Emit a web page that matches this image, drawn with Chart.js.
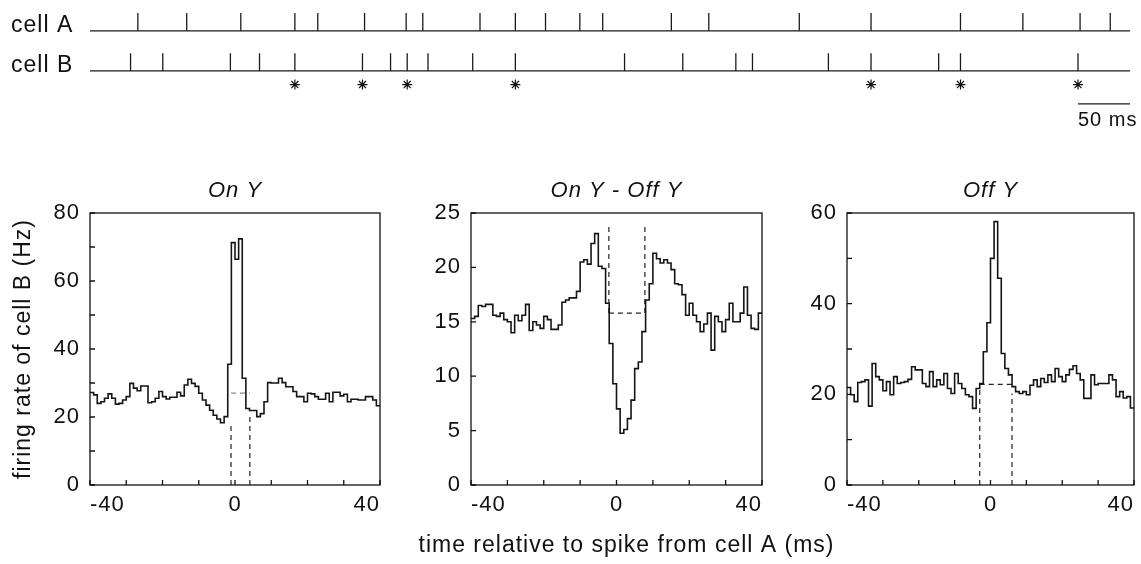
<!DOCTYPE html>
<html>
<head>
<meta charset="utf-8">
<script src="https://cdn.jsdelivr.net/npm/chart.js@4.4.1/dist/chart.umd.min.js"></script>
<style>
  body { margin: 0; background: #fff; width: 1141px; height: 564px; position: relative; overflow: hidden; }
  canvas { position: absolute; }
</style>
</head>
<body>
<canvas id="raster" width="1141" height="140" style="left:0px;top:0px"></canvas>
<canvas id="onY" width="400" height="394" style="left:0px;top:170px"></canvas>
<canvas id="onOffY" width="440" height="394" style="left:400px;top:170px"></canvas>
<canvas id="offY" width="341" height="394" style="left:800px;top:170px"></canvas>
<script>
// --- DATA ---
// spike times (ms) read off the two rasters
const rasterRows = ['cell A', 'cell B'];
const cellASpikes = [46, 93, 145, 197, 219, 264, 304, 320, 375, 409, 438, 471, 493, 559, 595, 682, 751, 837, 897, 952, 981];
const cellBSpikes = [39, 70, 135, 163, 197, 262, 289, 305, 325, 368, 409, 514, 570, 621, 637, 710, 751, 816, 837, 950];
const syncSpikes = [197, 262, 305, 409, 751, 837, 950];   // the asterisks
const scaleBarMs = 50;

// cross-correlograms, 1 ms bins from -40 to 40 ms (firing rate of cell B, Hz)
const onYRate = [
  27.2, 26.5, 24.0, 24.5, 25.5, 26.8, 25.5, 23.8, 24.0, 25.0,
  26.0, 29.9, 28.5, 27.7, 29.1, 29.1, 24.2, 24.5, 25.5, 27.5,
  26.0, 25.3, 25.8, 25.8, 27.3, 26.2, 29.4, 31.1, 29.9, 29.0,
  27.0, 25.0, 23.5, 22.0, 20.5, 19.4, 18.3, 20.1,
  35.5, 71.3, 66.4, 72.4, 31.4,
  22.5, 21.9, 21.9, 20.1, 21.0, 24.5, 30.1, 30.0, 30.0, 31.4,
  30.1, 28.9, 28.9, 27.5, 26.0, 26.0, 24.5, 27.0, 26.8, 26.0,
  25.2, 25.2, 27.0, 24.5, 27.3, 27.3, 26.2, 26.7, 24.5, 25.2,
  25.2, 25.0, 25.0, 26.0, 26.0, 25.0, 23.3
];
const onOffYRate = [
  15.3, 15.5, 16.5, 16.4, 16.6, 16.6, 15.6, 15.5, 15.8, 15.2,
  15.0, 14.0, 15.6, 15.1, 15.6, 16.6, 14.2, 15.0, 14.7, 14.4,
  15.5, 15.2, 14.3, 14.3, 14.7, 16.8, 17.0, 17.2, 17.2, 17.8,
  20.5, 20.7, 20.3, 22.2, 23.1, 20.1, 19.9, 16.7, 13.0, 9.3,
  7.0, 4.75, 5.1, 6.1, 7.8, 10.7, 11.3, 14.1, 17.0, 18.5,
  21.3, 20.8, 20.4, 20.7, 20.4, 19.8, 18.5, 18.4, 17.5, 15.6,
  16.7, 15.6, 15.0, 14.1, 14.8, 15.8, 12.4, 15.5, 15.0, 14.1,
  15.2, 16.7, 15.0, 15.0, 15.8, 18.2, 15.6, 14.4, 14.3, 15.8
];
const offYRate = [
  21.5, 19.9, 18.4, 22.6, 22.8, 23.2, 17.4, 26.8, 23.9, 23.2,
  20.8, 22.8, 19.9, 23.9, 22.4, 22.6, 22.8, 23.3, 26.1, 25.4,
  25.4, 22.4, 21.7, 25.0, 21.7, 23.2, 22.1, 24.6, 21.3, 20.2,
  24.6, 22.4, 21.3, 19.9, 19.5, 16.9, 21.3, 22.4, 29.4, 35.8,
  50.0, 58.1, 45.6, 29.0, 25.7, 24.3, 21.7, 20.6, 20.2, 20.6,
  19.9, 22.0, 23.2, 21.7, 23.5, 22.6, 24.3, 22.8, 25.7, 23.9,
  22.8, 24.3, 25.5, 26.3, 24.6, 23.2, 19.1, 19.1, 24.3, 22.1,
  22.4, 22.4, 22.4, 24.3, 23.2, 19.5, 20.6, 19.2, 19.5, 17.0
];

// dashed peak windows: edges (ms), baseline level (Hz), vertical spans (Hz)
const onYWindow = [-1.1, 4.1], onYLevel = 27, onYSpans = [[0, 18.3], [0, 21]];
const onOffYWindow = [-2.1, 7.8], onOffYLevel = 15.8, onOffYSpans = [[15.8, 23.9], [15.8, 24.0]];
const offYWindow = [-3.0, 6.0], offYLevel = 22.2, offYSpans = [[0, 21.3], [0, 20.2]];

const timeRange = [-40, 40];
const xLabelTicks = [-40, 0, 40];

// --- STYLE ---
const FONT = '"Liberation Sans", Arial, Helvetica, sans-serif';
const INK = '#111';
Chart.defaults.font.family = FONT;
Chart.defaults.color = INK;

// a little tracking, the original lettering is wide
const spacing = {
    id: 'spacing',
    beforeUpdate(c) { c.ctx.letterSpacing = '1px'; },
    beforeDraw(c) { c.ctx.letterSpacing = '1px'; }
};

// box round the plot + inward tick marks
const frame = {
    id: 'frame',
    afterDraw(c) {
        const { ctx, chartArea: a, scales } = c;
        ctx.save();
        ctx.strokeStyle = INK;
        ctx.lineWidth = 1.3;
        ctx.strokeRect(a.left, a.top, a.right - a.left, a.bottom - a.top);
        ctx.beginPath();
        scales.x.ticks.forEach(t => {
            const px = scales.x.getPixelForValue(t.value);
            ctx.moveTo(px, a.bottom); ctx.lineTo(px, a.bottom - 5);
        });
        scales.y.ticks.forEach(t => {
            const py = scales.y.getPixelForValue(t.value);
            ctx.moveTo(a.left, py); ctx.lineTo(a.left + 5, py);
        });
        ctx.stroke();
        ctx.restore();
    }
};

// shared x title, wider than one panel so drawn by hand under the middle one
const sharedXTitle = {
    id: 'sharedXTitle',
    afterDraw(c, args, opts) {
        if (!opts.text) return;
        const { ctx, chartArea: a } = c;
        ctx.save();
        ctx.fillStyle = INK;
        ctx.font = '23px ' + FONT;
        ctx.textAlign = 'center';
        ctx.textBaseline = 'middle';
        ctx.fillText(opts.text, (a.left + a.right) / 2 + 10, a.bottom + 61);
        ctx.restore();
    }
};

// --- RASTER (top) ---
const rowLevel = [2, 1];
const spikeHeight = 0.443;
const asteriskLevel = 0.66;
const barLevel = 0.18;
const rasterSpan = [0, 1000];

function spikeSegments(times, lvl) {
    return times.flatMap(t => [{ x: t, y: lvl }, { x: t, y: lvl + spikeHeight }, { x: t, y: null }]);
}
const lineDs = (data, extra) => Object.assign({
    type: 'line', data, borderColor: '#1a1a1a', borderWidth: 1.3, pointRadius: 0, spanGaps: false, borderCapStyle: 'butt'
}, extra || {});

const rasterText = {
    id: 'rasterText',
    afterDraw(c) {
        const { ctx, scales } = c;
        ctx.save();
        ctx.fillStyle = INK;
        ctx.font = '23px ' + FONT;
        ctx.textBaseline = 'alphabetic';
        rasterRows.forEach((name, i) => ctx.fillText(name, 11, scales.y.getPixelForValue(rowLevel[i]) + 1));
        ctx.font = '20px ' + FONT;
        ctx.fillText(scaleBarMs + ' ms', scales.x.getPixelForValue(rasterSpan[1] - scaleBarMs), scales.y.getPixelForValue(barLevel) + 22);
        ctx.restore();
    }
};

new Chart(document.getElementById('raster'), {
    type: 'line',
    data: {
        datasets: [
            lineDs([{ x: rasterSpan[0], y: rowLevel[0] }, { x: rasterSpan[1], y: rowLevel[0] }]),
            lineDs([{ x: rasterSpan[0], y: rowLevel[1] }, { x: rasterSpan[1], y: rowLevel[1] }]),
            lineDs(spikeSegments(cellASpikes, rowLevel[0])),
            lineDs(spikeSegments(cellBSpikes, rowLevel[1])),
            {
                type: 'scatter', data: syncSpikes.map(t => ({ x: t, y: asteriskLevel })),
                pointStyle: 'star', pointRadius: 5, borderWidth: 1.2, borderColor: '#111', backgroundColor: '#111'
            },
            lineDs([{ x: rasterSpan[1] - scaleBarMs, y: barLevel }, { x: rasterSpan[1], y: barLevel }])
        ]
    },
    options: {
        responsive: false, animation: false, events: [],
        layout: { padding: { left: 90, right: 11, top: 0, bottom: 0 } },
        plugins: { legend: { display: false }, tooltip: { enabled: false } },
        scales: {
            x: { type: 'linear', min: rasterSpan[0], max: rasterSpan[1], display: false },
            y: { type: 'linear', min: -0.568, max: 2.614, display: false }
        }
    },
    plugins: [spacing, rasterText]
});

// --- CORRELOGRAMS ---
function stepData(values) {
    const pts = values.map((v, i) => ({ x: timeRange[0] + i, y: v }));
    pts.push({ x: timeRange[0] + values.length, y: values[values.length - 1] });
    return pts;
}

function windowSets(win, level, spans, levelColor) {
    const dash = { borderDash: [5, 4], borderWidth: 1.2, borderColor: '#222', stepped: false };
    return [
        lineDs([{ x: win[0], y: spans[0][0] }, { x: win[0], y: spans[0][1] }], dash),
        lineDs([{ x: win[1], y: spans[1][0] }, { x: win[1], y: spans[1][1] }], dash),
        lineDs([{ x: win[0], y: level }, { x: win[1], y: level }], Object.assign({}, dash, { borderColor: levelColor }))
    ];
}

function correlogram(id, title, values, yMax, yStep, yLabelEvery, yWidth, padRight, win, level, spans, levelColor, extra) {
    return new Chart(document.getElementById(id), {
        type: 'line',
        data: {
            datasets: [
                lineDs(stepData(values), { stepped: 'before', borderWidth: 1.6, borderColor: '#151515' }),
                ...windowSets(win, level, spans, levelColor)
            ]
        },
        options: {
            responsive: false, animation: false, events: [],
            layout: { padding: { left: 0, right: padRight, top: 0, bottom: 0 } },
            plugins: {
                legend: { display: false }, tooltip: { enabled: false },
                title: {
                    display: true, text: title, fullSize: false, color: INK,
                    font: { size: 22, style: 'italic', weight: 'normal', lineHeight: 1 },
                    padding: { top: 10, bottom: 11 }
                },
                sharedXTitle: { text: extra.xTitle || '' }
            },
            scales: {
                x: {
                    type: 'linear', min: timeRange[0], max: timeRange[1],
                    grid: { display: false, drawTicks: false }, border: { display: false },
                    ticks: {
                        stepSize: 10, autoSkip: false, maxRotation: 0, align: 'inner', padding: 7,
                        color: INK, font: { size: 22 },
                        callback: v => xLabelTicks.includes(v) ? String(v) : ''
                    },
                    afterFit: s => { s.height = 79; }
                },
                y: {
                    type: 'linear', min: 0, max: yMax,
                    grid: { display: false, drawTicks: false }, border: { display: false },
                    ticks: {
                        stepSize: yStep, autoSkip: false, padding: 10, color: INK, font: { size: 22 },
                        callback: v => v % yLabelEvery === 0 ? String(v) : ''
                    },
                    title: extra.yTitle
                        ? { display: true, text: extra.yTitle, color: INK, font: { size: 23, lineHeight: 1.2 }, padding: { top: 10, bottom: 0 } }
                        : { display: false },
                    afterFit: s => { s.width = yWidth; }
                }
            }
        },
        plugins: [spacing, frame, sharedXTitle]
    });
}

correlogram('onY', 'On Y', onYRate, 80, 10, 20, 90, 20, onYWindow, onYLevel, onYSpans, '#8a8a8a',
    { yTitle: 'firing rate of cell B (Hz)' });
correlogram('onOffY', 'On Y - Off Y', onOffYRate, 25, 5, 5, 71, 78, onOffYWindow, onOffYLevel, onOffYSpans, '#222',
    { xTitle: 'time relative to spike from cell A (ms)' });
correlogram('offY', 'Off Y', offYRate, 60, 10, 20, 47, 4, offYWindow, offYLevel, offYSpans, '#222', {});
</script>
</body>
</html>
